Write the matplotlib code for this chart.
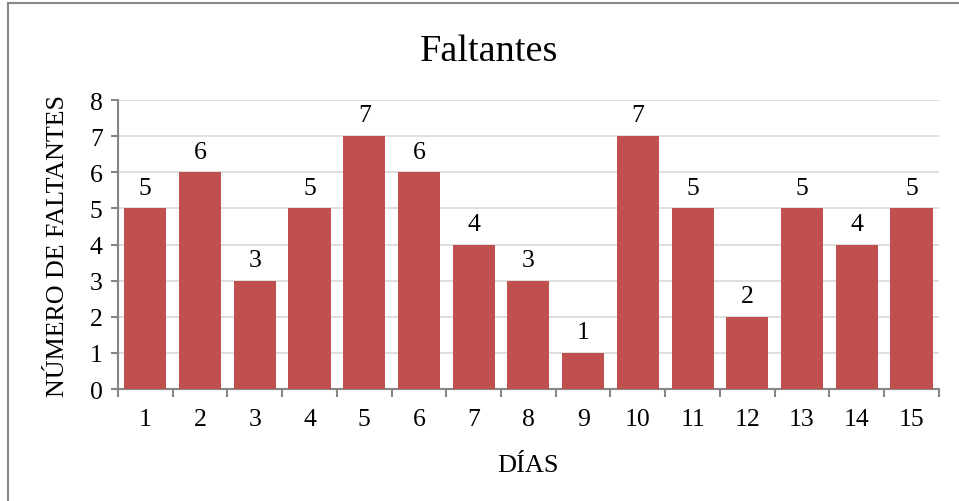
import numpy as np
import matplotlib.pyplot as plt
from matplotlib.lines import Line2D

dias = ['1', '2', '3', '4', '5', '6', '7', '8', '9', '10', '11', '12', '13', '14', '15']
faltantes = [5, 6, 3, 5, 7, 6, 4, 3, 1, 7, 5, 2, 5, 4, 5]

plt.rcParams['font.family'] = ['Liberation Serif', 'DejaVu Serif']

def main():
    fig = plt.figure(figsize=(9.59, 5.02), dpi=100)
    ax = fig.add_axes([0.1230, 0.2231, 0.856, 0.5757])

    x = np.arange(len(dias))
    bars = ax.bar(x, faltantes, width=0.77, color='#C0504D', zorder=3)

    for rect, val in zip(bars, faltantes):
        ax.annotate(str(val), (rect.get_x() + rect.get_width() / 2, val),
                    xytext=(0, 7), textcoords='offset points',
                    ha='center', va='bottom', fontsize=18.5)

    ax.set_xlim(-0.5, len(dias) - 0.5)
    ax.set_ylim(0, 8)
    ax.set_yticks(range(0, 9))
    ax.set_xticks(x)
    ax.set_xticklabels(dias)
    ax.set_xticks(np.arange(-0.5, len(dias)), minor=True)

    ax.yaxis.grid(True, color='#D9D9D9', linewidth=1.2, zorder=0)
    for side in ['top', 'right']:
        ax.spines[side].set_visible(False)
    for side in ['left', 'bottom']:
        ax.spines[side].set_color('#868686')
        ax.spines[side].set_linewidth(1.5)

    ax.tick_params(axis='x', which='major', length=0, pad=14, labelsize=18.5)
    ax.tick_params(axis='x', which='minor', length=6, width=1.5, color='#868686')
    ax.tick_params(axis='y', length=5, width=1.5, color='#868686', pad=6, labelsize=18.5)

    ax.set_xlabel('DÍAS', fontsize=19)
    ax.xaxis.set_label_coords(0.5, -0.225)
    ax.set_ylabel('NÚMERO DE FALTANTES', fontsize=18.7)
    ax.yaxis.set_label_coords(-0.060, 0.5)

    fig.text(0.51, 0.897, 'Faltantes', ha='center', va='center', fontsize=27.5)

    # frame around the chart area
    fig.add_artist(Line2D([8 / 959, 8 / 959], [0, 1 - 4 / 502], transform=fig.transFigure,
                          color='#878787', linewidth=1.5))
    fig.add_artist(Line2D([8 / 959, 1], [1 - 4 / 502, 1 - 4 / 502], transform=fig.transFigure,
                          color='#878787', linewidth=1.5))

    fig.savefig('out.png', dpi=100)

if __name__ == "__main__":
    main()
